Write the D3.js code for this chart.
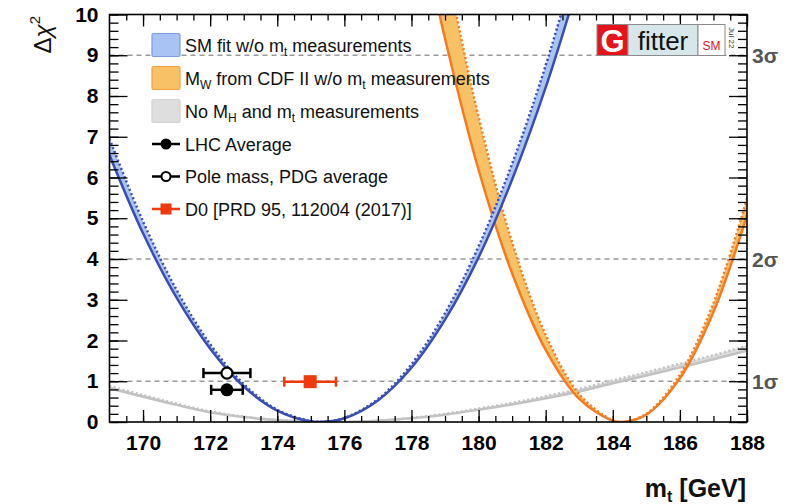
<!DOCTYPE html>
<html>
<head>
<meta charset="utf-8">
<script src="https://cdn.jsdelivr.net/npm/d3@7/dist/d3.min.js"></script>
<style>
  body { margin: 0; background: #fff; }
  svg { display: block; font-family: "Liberation Sans", Arial, Helvetica, sans-serif; }
</style>
</head>
<body>
<svg></svg>
<script>
const width = 802;
const height = 504;

// SM fit w/o mt (blue band: solid = outer edge, dotted = inner edge)
const blueMt     = [169, 170, 171, 172, 173, 174, 175, 175.3, 176, 177, 178, 179, 180, 181, 182, 183];
const blueSolid  = [6.55, 4.63, 3.05, 1.80, 0.87, 0.28, 0.01, 0, 0.09, 0.53, 1.33, 2.51, 4.04, 5.95, 8.21, 10.85];
const blueDotted = [6.95, 4.92, 3.24, 1.91, 0.93, 0.30, 0.02, 0, 0.10, 0.56, 1.42, 2.67, 4.31, 6.34, 8.75, 11.56];

// MW from CDF II w/o mt (orange band)
const orangeMt     = [178.5, 179, 180, 181, 182, 183, 184, 184.3, 185, 186, 187, 188];
const orangeSolid  = [11.27, 9.41, 6.19, 3.65, 1.77, 0.57, 0.03, 0, 0.18, 1.07, 2.70, 5.07];
const orangeDotted = [13.62, 11.38, 7.49, 4.41, 2.14, 0.68, 0.04, 0, 0.20, 1.16, 2.92, 5.48];

// No MH and mt measurements (grey band)
const greyMt     = [169, 170, 171, 172, 173, 174, 175, 176, 177, 178, 179, 180, 181, 182, 183, 184, 185, 186, 187, 188];
const greySolid  = [0.83, 0.62, 0.42, 0.24, 0.12, 0.05, 0.01, 0, 0.03, 0.09, 0.18, 0.30, 0.43, 0.58, 0.75, 0.95, 1.14, 1.34, 1.54, 1.75];
const greyDotted = [0.88, 0.66, 0.45, 0.26, 0.13, 0.05, 0.01, 0, 0.03, 0.10, 0.20, 0.33, 0.47, 0.63, 0.81, 1.02, 1.22, 1.43, 1.64, 1.87];

// measurements
const pointNames = ["LHC Average", "Pole mass, PDG average", "D0 [PRD 95, 112004 (2017)]"];
const pointMt    = [172.5, 172.5, 174.98];
const pointErr   = [0.47, 0.7, 0.77];
const pointChi   = [0.79, 1.2, 0.99];

// sigma lines
const sigmaLevels = [1, 4, 9];
const sigmaLabels = ["1\u03c3", "2\u03c3", "3\u03c3"];

const xTicks = [170, 172, 174, 176, 178, 180, 182, 184, 186, 188];
const yTicks = [0, 1, 2, 3, 4, 5, 6, 7, 8, 9, 10];

const svg = d3.select("svg")
    .attr("width", width)
    .attr("height", height)
    .attr("viewBox", [0, 0, width, height]);

const x = d3.scaleLinear().domain([169, 188]).range([109.5, 747]);
const y = d3.scaleLinear().domain([0, 10]).range([422, 14.5]);

const plotW = x.range()[1] - x.range()[0];
const plotH = y.range()[0] - y.range()[1];

svg.append("clipPath").attr("id", "clip")
  .append("rect")
    .attr("x", x.range()[0])
    .attr("y", y.range()[1])
    .attr("width", plotW)
    .attr("height", plotH);

// dashed sigma lines
svg.append("g").selectAll("line")
  .data(sigmaLevels)
  .join("line")
    .attr("x1", x.range()[0])
    .attr("x2", x.range()[1])
    .attr("y1", d => y(d))
    .attr("y2", d => y(d))
    .style("stroke", "#9a9a9a")
    .style("stroke-width", 1.5)
    .style("stroke-dasharray", "5,4");

const curves = svg.append("g").attr("clip-path", "url(#clip)");

function drawBand(mt, solid, dotted, fill, lineColor, lineW) {
  const rows = mt.map((m, i) => ({m: m, s: solid[i], d: dotted[i]}));
  const area = d3.area()
      .x(d => x(d.m))
      .y0(d => y(d.s))
      .y1(d => y(d.d))
      .curve(d3.curveCatmullRom);
  const lineS = d3.line().x(d => x(d.m)).y(d => y(d.s)).curve(d3.curveCatmullRom);
  const lineD = d3.line().x(d => x(d.m)).y(d => y(d.d)).curve(d3.curveCatmullRom);

  curves.append("path")
      .datum(rows)
      .attr("d", area)
      .style("fill", fill)
      .style("stroke", "none");
  curves.append("path")
      .datum(rows)
      .attr("d", lineD)
      .style("fill", "none")
      .style("stroke", lineColor)
      .style("stroke-width", lineW)
      .style("stroke-dasharray", "2,2.5");
  curves.append("path")
      .datum(rows)
      .attr("d", lineS)
      .style("fill", "none")
      .style("stroke", lineColor)
      .style("stroke-width", lineW);
}

drawBand(greyMt, greySolid, greyDotted, "#dcdcdc", "#c2c2c2", 2.5);
drawBand(orangeMt, orangeSolid, orangeDotted, "#f8c165", "#f47b20", 2.5);
drawBand(blueMt, blueSolid, blueDotted, "#aac3f5", "#3a4db3", 2.5);

// axes (ROOT style, ticks inside on all four sides)
function styleAxis(g) {
  g.select(".domain").remove();
  g.selectAll(".tick line").style("stroke", "#000").style("stroke-width", 1.3);
  g.selectAll("text")
      .style("font-size", "21px")
      .style("font-weight", "bold")
      .style("fill", "#000")
      .style("font-family", "'Liberation Sans', Arial, sans-serif");
}

const xMinor = d3.range(169.5, 188.01, 0.5);
const yMinor = d3.range(0, 10.001, 0.2);

svg.append("g").attr("transform", `translate(0,${y.range()[0]})`)
  .call(d3.axisBottom(x).tickValues(xMinor).tickSize(-6).tickFormat(""))
  .call(styleAxis);
svg.append("g").attr("transform", `translate(0,${y.range()[0]})`)
  .call(d3.axisBottom(x).tickValues(xTicks).tickSize(-12).tickPadding(13).tickFormat(d3.format("d")))
  .call(styleAxis);
svg.append("g").attr("transform", `translate(0,${y.range()[1]})`)
  .call(d3.axisTop(x).tickValues(xMinor).tickSize(-6).tickFormat(""))
  .call(styleAxis);
svg.append("g").attr("transform", `translate(0,${y.range()[1]})`)
  .call(d3.axisTop(x).tickValues(xTicks).tickSize(-12).tickFormat(""))
  .call(styleAxis);

svg.append("g").attr("transform", `translate(${x.range()[0]},0)`)
  .call(d3.axisLeft(y).tickValues(yMinor).tickSize(-9).tickFormat(""))
  .call(styleAxis);
svg.append("g").attr("transform", `translate(${x.range()[0]},0)`)
  .call(d3.axisLeft(y).tickValues(yTicks).tickSize(-18).tickPadding(11).tickFormat(d3.format("d")))
  .call(styleAxis);
svg.append("g").attr("transform", `translate(${x.range()[1]},0)`)
  .call(d3.axisRight(y).tickValues(yMinor).tickSize(-9).tickFormat(""))
  .call(styleAxis);
svg.append("g").attr("transform", `translate(${x.range()[1]},0)`)
  .call(d3.axisRight(y).tickValues(yTicks).tickSize(-18).tickFormat(""))
  .call(styleAxis);

// frame
svg.append("rect")
    .attr("x", x.range()[0])
    .attr("y", y.range()[1])
    .attr("width", plotW)
    .attr("height", plotH)
    .style("fill", "none")
    .style("stroke", "#000")
    .style("stroke-width", 1.6);

// sigma labels on the right
svg.append("g").selectAll("text")
  .data(sigmaLevels)
  .join("text")
    .attr("x", x.range()[1] + 5)
    .attr("y", d => y(d))
    .attr("dy", "0.36em")
    .style("font-size", "21px")
    .style("font-weight", "bold")
    .style("fill", "#555")
    .text((d, i) => sigmaLabels[i]);

// measurement points
const pointColors = ["#000", "#000", "#ee3a0c"];
const pts = svg.append("g");
pointMt.forEach((m, i) => {
  const cy = y(pointChi[i]);
  const c = pointColors[i];
  pts.append("line")
      .attr("x1", x(m - pointErr[i])).attr("x2", x(m + pointErr[i]))
      .attr("y1", cy).attr("y2", cy)
      .style("stroke", c).style("stroke-width", 2.5);
  [m - pointErr[i], m + pointErr[i]].forEach(e => {
    pts.append("line")
        .attr("x1", x(e)).attr("x2", x(e))
        .attr("y1", cy - 5).attr("y2", cy + 5)
        .style("stroke", c).style("stroke-width", 2.5);
  });
  if (i == 0) {
    pts.append("circle").attr("cx", x(m)).attr("cy", cy).attr("r", 6.5).style("fill", "#000");
  } else if (i == 1) {
    pts.append("circle").attr("cx", x(m)).attr("cy", cy).attr("r", 5.5)
        .style("fill", "#fff").style("stroke", "#000").style("stroke-width", 2.2);
  } else {
    pts.append("rect").attr("x", x(m) - 6.5).attr("y", cy - 6.5).attr("width", 13).attr("height", 13)
        .style("fill", c);
  }
});

// legend
const legend = svg.append("g");
const legendY = [45, 78, 111, 144, 176.5, 209];
const bandEntries = [
  {fill: "#aac3f5", stroke: "#7f9ce6", parts: [["SM fit w/o m", 0], ["t", 1], [" measurements", 0]]},
  {fill: "#f8c165", stroke: "#f6a042", parts: [["M", 0], ["W", 1], [" from CDF II w/o m", 0], ["t", 1], [" measurements", 0]]},
  {fill: "#dedede", stroke: "#d2d2d2", parts: [["No M", 0], ["H", 1], [" and m", 0], ["t", 1], [" measurements", 0]]}
];

function legendText(yc, parts) {
  const t = legend.append("text")
      .attr("x", 185)
      .attr("y", yc + 6.5)
      .style("font-size", "18px")
      .style("fill", "#111");
  let prevSub = false;
  parts.forEach(p => {
    const s = t.append("tspan").text(p[0]);
    if (p[1]) {
      s.attr("dy", 4).style("font-size", "12px");
    } else if (prevSub) {
      s.attr("dy", -4);
    }
    prevSub = !!p[1];
  });
}

bandEntries.forEach((e, i) => {
  legend.append("rect")
      .attr("x", 152).attr("y", legendY[i] - 11.5)
      .attr("width", 28).attr("height", 23)
      .attr("rx", 1.5)
      .style("fill", e.fill)
      .style("stroke", e.stroke)
      .style("stroke-width", 1.2);
  legendText(legendY[i], e.parts);
});

pointNames.forEach((name, i) => {
  const yc = legendY[i + 3];
  const c = pointColors[i];
  legend.append("line")
      .attr("x1", 152).attr("x2", 180)
      .attr("y1", yc).attr("y2", yc)
      .style("stroke", c).style("stroke-width", 2.5);
  if (i == 0) {
    legend.append("circle").attr("cx", 166).attr("cy", yc).attr("r", 5.5).style("fill", "#000");
  } else if (i == 1) {
    legend.append("circle").attr("cx", 166).attr("cy", yc).attr("r", 4.5)
        .style("fill", "#fff").style("stroke", "#000").style("stroke-width", 2);
  } else {
    legend.append("rect").attr("x", 160.5).attr("y", yc - 5.5).attr("width", 11).attr("height", 11)
        .style("fill", c);
  }
  legendText(yc, [[name, 0]]);
});

// Gfitter logo
const logo = svg.append("g");
logo.append("rect").attr("x", 597).attr("y", 24.5).attr("width", 31).attr("height", 31)
    .style("fill", "#e5131b").style("stroke", "#8a8a8a").style("stroke-width", 1);
logo.append("rect").attr("x", 628).attr("y", 24.5).attr("width", 70).attr("height", 31)
    .style("fill", "#d7e7e9").style("stroke", "#8a8a8a").style("stroke-width", 1);
logo.append("rect").attr("x", 698).attr("y", 24.5).attr("width", 27).attr("height", 31)
    .style("fill", "#fff").style("stroke", "#8a8a8a").style("stroke-width", 1);
logo.append("text").attr("x", 612.5).attr("y", 51.5).attr("text-anchor", "middle")
    .style("font-size", "31px").style("font-weight", "bold").style("fill", "#fff").text("G");
logo.append("text").attr("x", 663).attr("y", 49.5).attr("text-anchor", "middle")
    .style("font-size", "26px").style("fill", "#111").text("fitter");
logo.append("text").attr("x", 711.5).attr("y", 49.5).attr("text-anchor", "middle")
    .style("font-size", "12px").style("fill", "#e5131b").text("SM");
logo.append("text").attr("transform", "translate(729,27) rotate(90)")
    .style("font-size", "8px").style("fill", "#333").text("Jul 22");

// axis titles
const yTitle = svg.append("text")
    .attr("transform", "translate(51,16) rotate(-90)")
    .attr("text-anchor", "end")
    .style("font-size", "24px")
    .style("fill", "#111");
yTitle.append("tspan").text("\u0394");
yTitle.append("tspan").style("font-style", "italic").text("\u03c7");
yTitle.append("tspan").attr("dy", -11).style("font-size", "15px").text("2");

const xTitle = svg.append("text")
    .attr("x", 746)
    .attr("y", 497)
    .attr("text-anchor", "end")
    .style("font-size", "25px")
    .style("font-weight", "bold")
    .style("fill", "#111");
xTitle.append("tspan").text("m");
xTitle.append("tspan").attr("dy", 5).style("font-size", "16px").text("t");
xTitle.append("tspan").attr("dy", -5).text(" [GeV]");
</script>
</body>
</html>
